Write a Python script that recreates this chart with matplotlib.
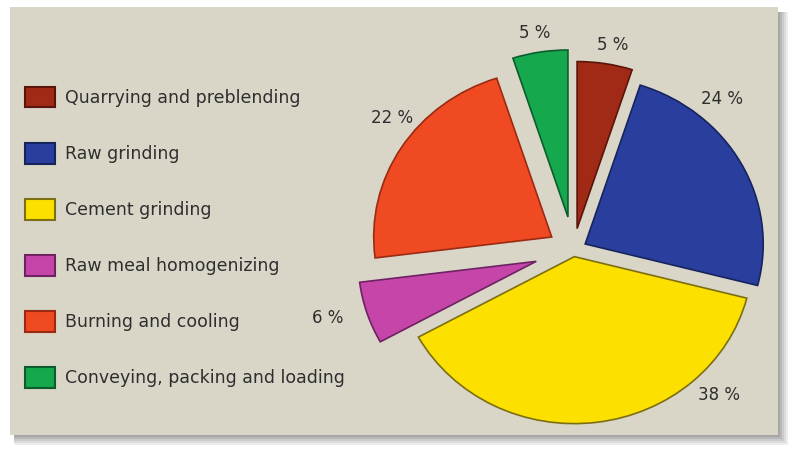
import matplotlib
matplotlib.use("Agg")
import matplotlib.pyplot as plt
from matplotlib.patches import Rectangle, Patch

# ---- data ----
categories = ["Quarrying and preblending", "Raw grinding", "Cement grinding",
              "Raw meal homogenizing", "Burning and cooling",
              "Conveying, packing and loading"]
shares = [5, 24, 38, 6, 22, 5]
pct_labels = ["5 %", "24 %", "38 %", "6 %", "22 %", "5 %"]

# ---- styling / layout ----
colors = ["#a02a16", "#2a3f9d", "#fbe000", "#c645a8", "#ef4a22", "#16a84c"]
edges = ["#5a140a", "#16245e", "#7d6e12", "#6e2262", "#9a2a12", "#0b5e2c"]
explode = [0.13, 0.075, 0.04, 0.22, 0.145, 0.2]
label_pos = [(0.222, 1.228), (0.833, 0.904), (0.818, -0.868),
             (-1.38, -0.407), (-1.02, 0.79), (-0.216, 1.299)]

W, H = 788, 449
fig = plt.figure(figsize=(W / 100, H / 100), dpi=100)
fig.patch.set_facecolor("white")

def px(x0, y0, w, h):
    # rectangle from pixel coords (top-left origin) to figure fraction
    return (x0 / W, 1 - (y0 + h) / H), w / W, h / H

# shadow (soft) then panel
for i, a in enumerate([0.10, 0.10, 0.12, 0.14, 0.16]):
    d = 10 - 2 * i
    xy, w, h = px(14, 12, 764 + d, 423 + d)
    fig.patches.append(Rectangle(xy, w, h, transform=fig.transFigure,
                                 facecolor="#505050", alpha=a, edgecolor="none", zorder=-3))
xy, w, h = px(10, 7, 768, 428)
fig.patches.append(Rectangle(xy, w, h, transform=fig.transFigure,
                             facecolor="#d9d5c7", edgecolor="none", zorder=-2))

# pie axes (slightly elliptical like the reference)
ax = fig.add_axes([351 / W, -9.75 / H, 445 / W, 417.5 / H])
ax.set_zorder(2)
wedges, _ = ax.pie(shares, colors=colors, explode=explode, startangle=90,
                   counterclock=False, radius=1.0,
                   wedgeprops=dict(linewidth=1.2))
for wd, ec in zip(wedges, edges):
    wd.set_edgecolor(ec)
ax.set_aspect("auto")
ax.set_xlim(-1.25, 1.25)
ax.set_ylim(-1.25, 1.25)
ax.patch.set_alpha(0)
for txt, (lx, ly) in zip(pct_labels, label_pos):
    ax.text(lx, ly, txt, ha="center", va="center", fontsize=12,
            color="#2e2e2e", family="DejaVu Sans")

# legend
handles = [Patch(facecolor=c, edgecolor=e, linewidth=1.5) for c, e in zip(colors, edges)]
leg = fig.legend(handles, categories, loc="upper left",
                 bbox_to_anchor=(18 / W, 1 - 80 / H), frameon=False,
                 fontsize=12.5, handlelength=1.72, handleheight=1.44,
                 handletextpad=0.57, labelspacing=2.05, borderaxespad=0)
leg.set_zorder(3)
for t in leg.get_texts():
    t.set_color("#2e2e2e")

fig.savefig("out.png", dpi=100)
